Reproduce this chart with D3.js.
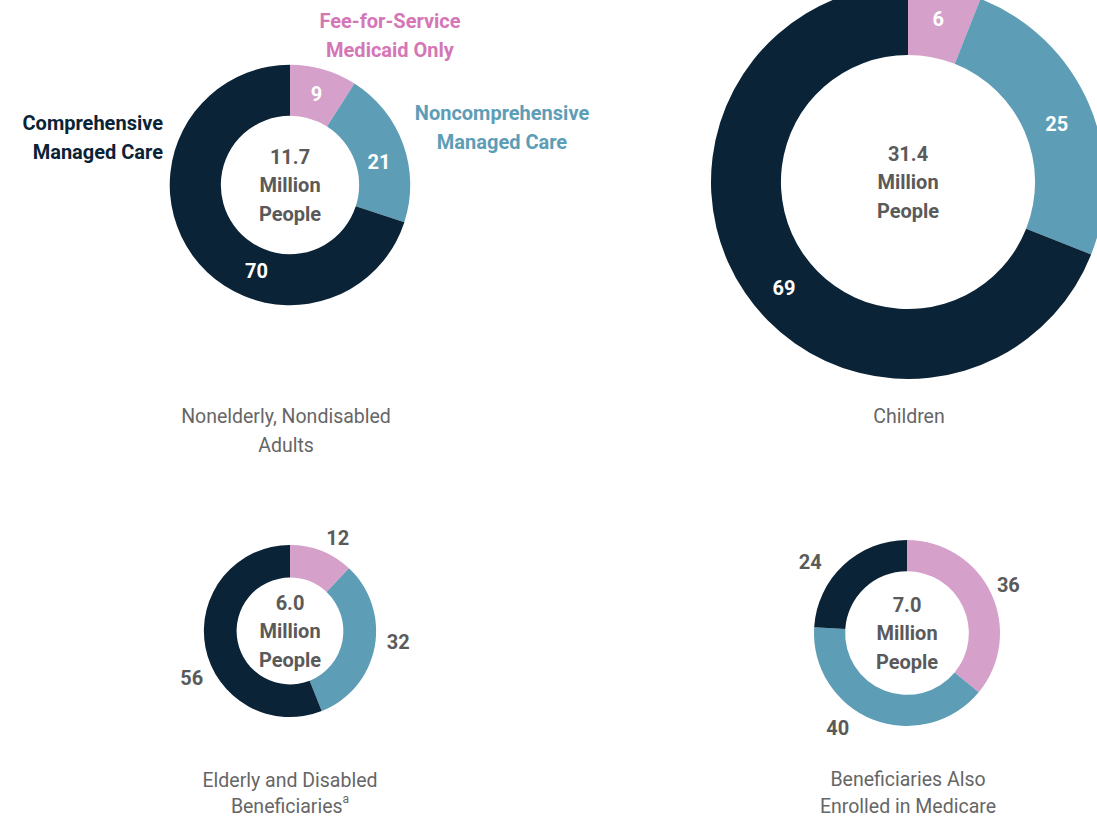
<!DOCTYPE html>
<html>
<head>
<meta charset="utf-8">
<script src="https://cdn.jsdelivr.net/npm/d3@7"></script>
<style>
  body { margin: 0; background: #fff; }
  svg { display: block; font-family: Roboto, "Open Sans", sans-serif; }
</style>
</head>
<body>
<svg id="chart"></svg>
<script>
// Data
const categories = ["Fee-for-Service Medicaid Only", "Noncomprehensive Managed Care", "Comprehensive Managed Care"];
const groups = ["Nonelderly, Nondisabled Adults", "Children", "Elderly and Disabled Beneficiaries", "Beneficiaries Also Enrolled in Medicare"];
const population = [11.7, 31.4, 6.0, 7.0];           // million people
const feeForService = [9, 6, 12, 36];                 // percent
const noncomprehensive = [21, 25, 32, 40];
const comprehensive = [70, 69, 56, 24];

// Layout (not data)
const width = 1097, height = 818;
const colors = ["#d5a0c9", "#5e9db6", "#0b2336"];
const textColors = ["#d576b6", "#5e9db6", "#0b2336"];
const layout = [
  {cx: 290, cy: 185, inner: 0.575, inside: true,  titleX: 286, titleY: [416, 445], nudge: [[0, 0], [0, 9], [43, 30]]},
  {cx: 908, cy: 182, inner: 0.645, inside: true,  titleX: 909, titleY: [416],      nudge: [[0, -4], [0, 6], [10, 15]]},
  {cx: 290, cy: 631, inner: 0.62,  inside: false, titleX: 290, titleY: [780, 806], nudge: [[9, 5], [5, -9], [5, 27]]},
  {cx: 907, cy: 633, inner: 0.665, inside: false, titleX: 908, titleY: [779, 806], nudge: [[0, 0], [-28, -9], [-20, 11]]}
];
const titleLines = [
  ["Nonelderly, Nondisabled", "Adults"],
  ["Children"],
  ["Elderly and Disabled", "Beneficiaries"],
  ["Beneficiaries Also", "Enrolled in Medicare"]
];

const svg = d3.select("#chart").attr("width", width).attr("height", height);

const radius = d3.scaleSqrt().domain([0, d3.max(population)]).range([0, 197]);
const pie = d3.pie().sort(null).value(d => d);

groups.forEach((g, i) => {
  const L = layout[i];
  const r = radius(population[i]);
  const ri = r * L.inner;
  const vals = [feeForService[i], noncomprehensive[i], comprehensive[i]];
  const arcs = pie(vals);
  const arc = d3.arc().innerRadius(ri).outerRadius(r);
  const labelR = L.inside ? (r + ri) / 2 : r + 19;
  const labelArc = d3.arc().innerRadius(labelR).outerRadius(labelR);

  const grp = svg.append("g").attr("transform", `translate(${L.cx},${L.cy})`);

  grp.selectAll("path")
    .data(arcs)
    .enter().append("path")
    .attr("d", arc)
    .attr("fill", (d, j) => colors[j]);

  grp.selectAll(".val")
    .data(arcs)
    .enter().append("text")
    .attr("class", "val")
    .attr("x", (d, j) => labelArc.centroid(d)[0] + L.nudge[j][0])
    .attr("y", (d, j) => labelArc.centroid(d)[1] + L.nudge[j][1])
    .attr("text-anchor", "middle")
    .attr("dominant-baseline", "central")
    .attr("font-size", "20px")
    .attr("font-weight", "bold")
    .attr("fill", L.inside ? "#fff" : "#5a5a5a")
    .text(d => d.data);

  // center label
  const center = [population[i].toFixed(1), "Million", "People"];
  grp.selectAll(".center")
    .data(center)
    .enter().append("text")
    .attr("class", "center")
    .attr("x", 0)
    .attr("y", (d, j) => (j - 1) * 28.5)
    .attr("text-anchor", "middle")
    .attr("dominant-baseline", "central")
    .attr("font-size", "20px")
    .attr("font-weight", "bold")
    .attr("fill", "#5a5a5a")
    .text(d => d);

  // group title
  titleLines[i].forEach((line, j) => {
    const t = svg.append("text")
      .attr("x", L.titleX)
      .attr("y", L.titleY[j])
      .attr("text-anchor", "middle")
      .attr("dominant-baseline", "central")
      .attr("font-size", "19.5px")
      .attr("fill", "#666")
      .text(line);
    if (i == 2 && j == 1) {
      t.append("tspan")
        .attr("font-size", "12px")
        .attr("dy", -7)
        .text("a");
    }
  });
});

// Category labels around the first donut
const legend = [
  {lines: ["Fee-for-Service", "Medicaid Only"], x: 390, y: 21, anchor: "middle"},
  {lines: ["Noncomprehensive", "Managed Care"], x: 502, y: 113, anchor: "middle"},
  {lines: ["Comprehensive", "Managed Care"], x: 163, y: 123, anchor: "end"}
];
categories.forEach((c, k) => {
  const lg = legend[k];
  svg.append("g").selectAll("text")
    .data(lg.lines)
    .enter().append("text")
    .attr("x", lg.x)
    .attr("y", (d, j) => lg.y + j * 29)
    .attr("text-anchor", lg.anchor)
    .attr("dominant-baseline", "central")
    .attr("font-size", "20px")
    .attr("font-weight", "bold")
    .attr("fill", textColors[k])
    .text(d => d);
});
</script>
</body>
</html>
